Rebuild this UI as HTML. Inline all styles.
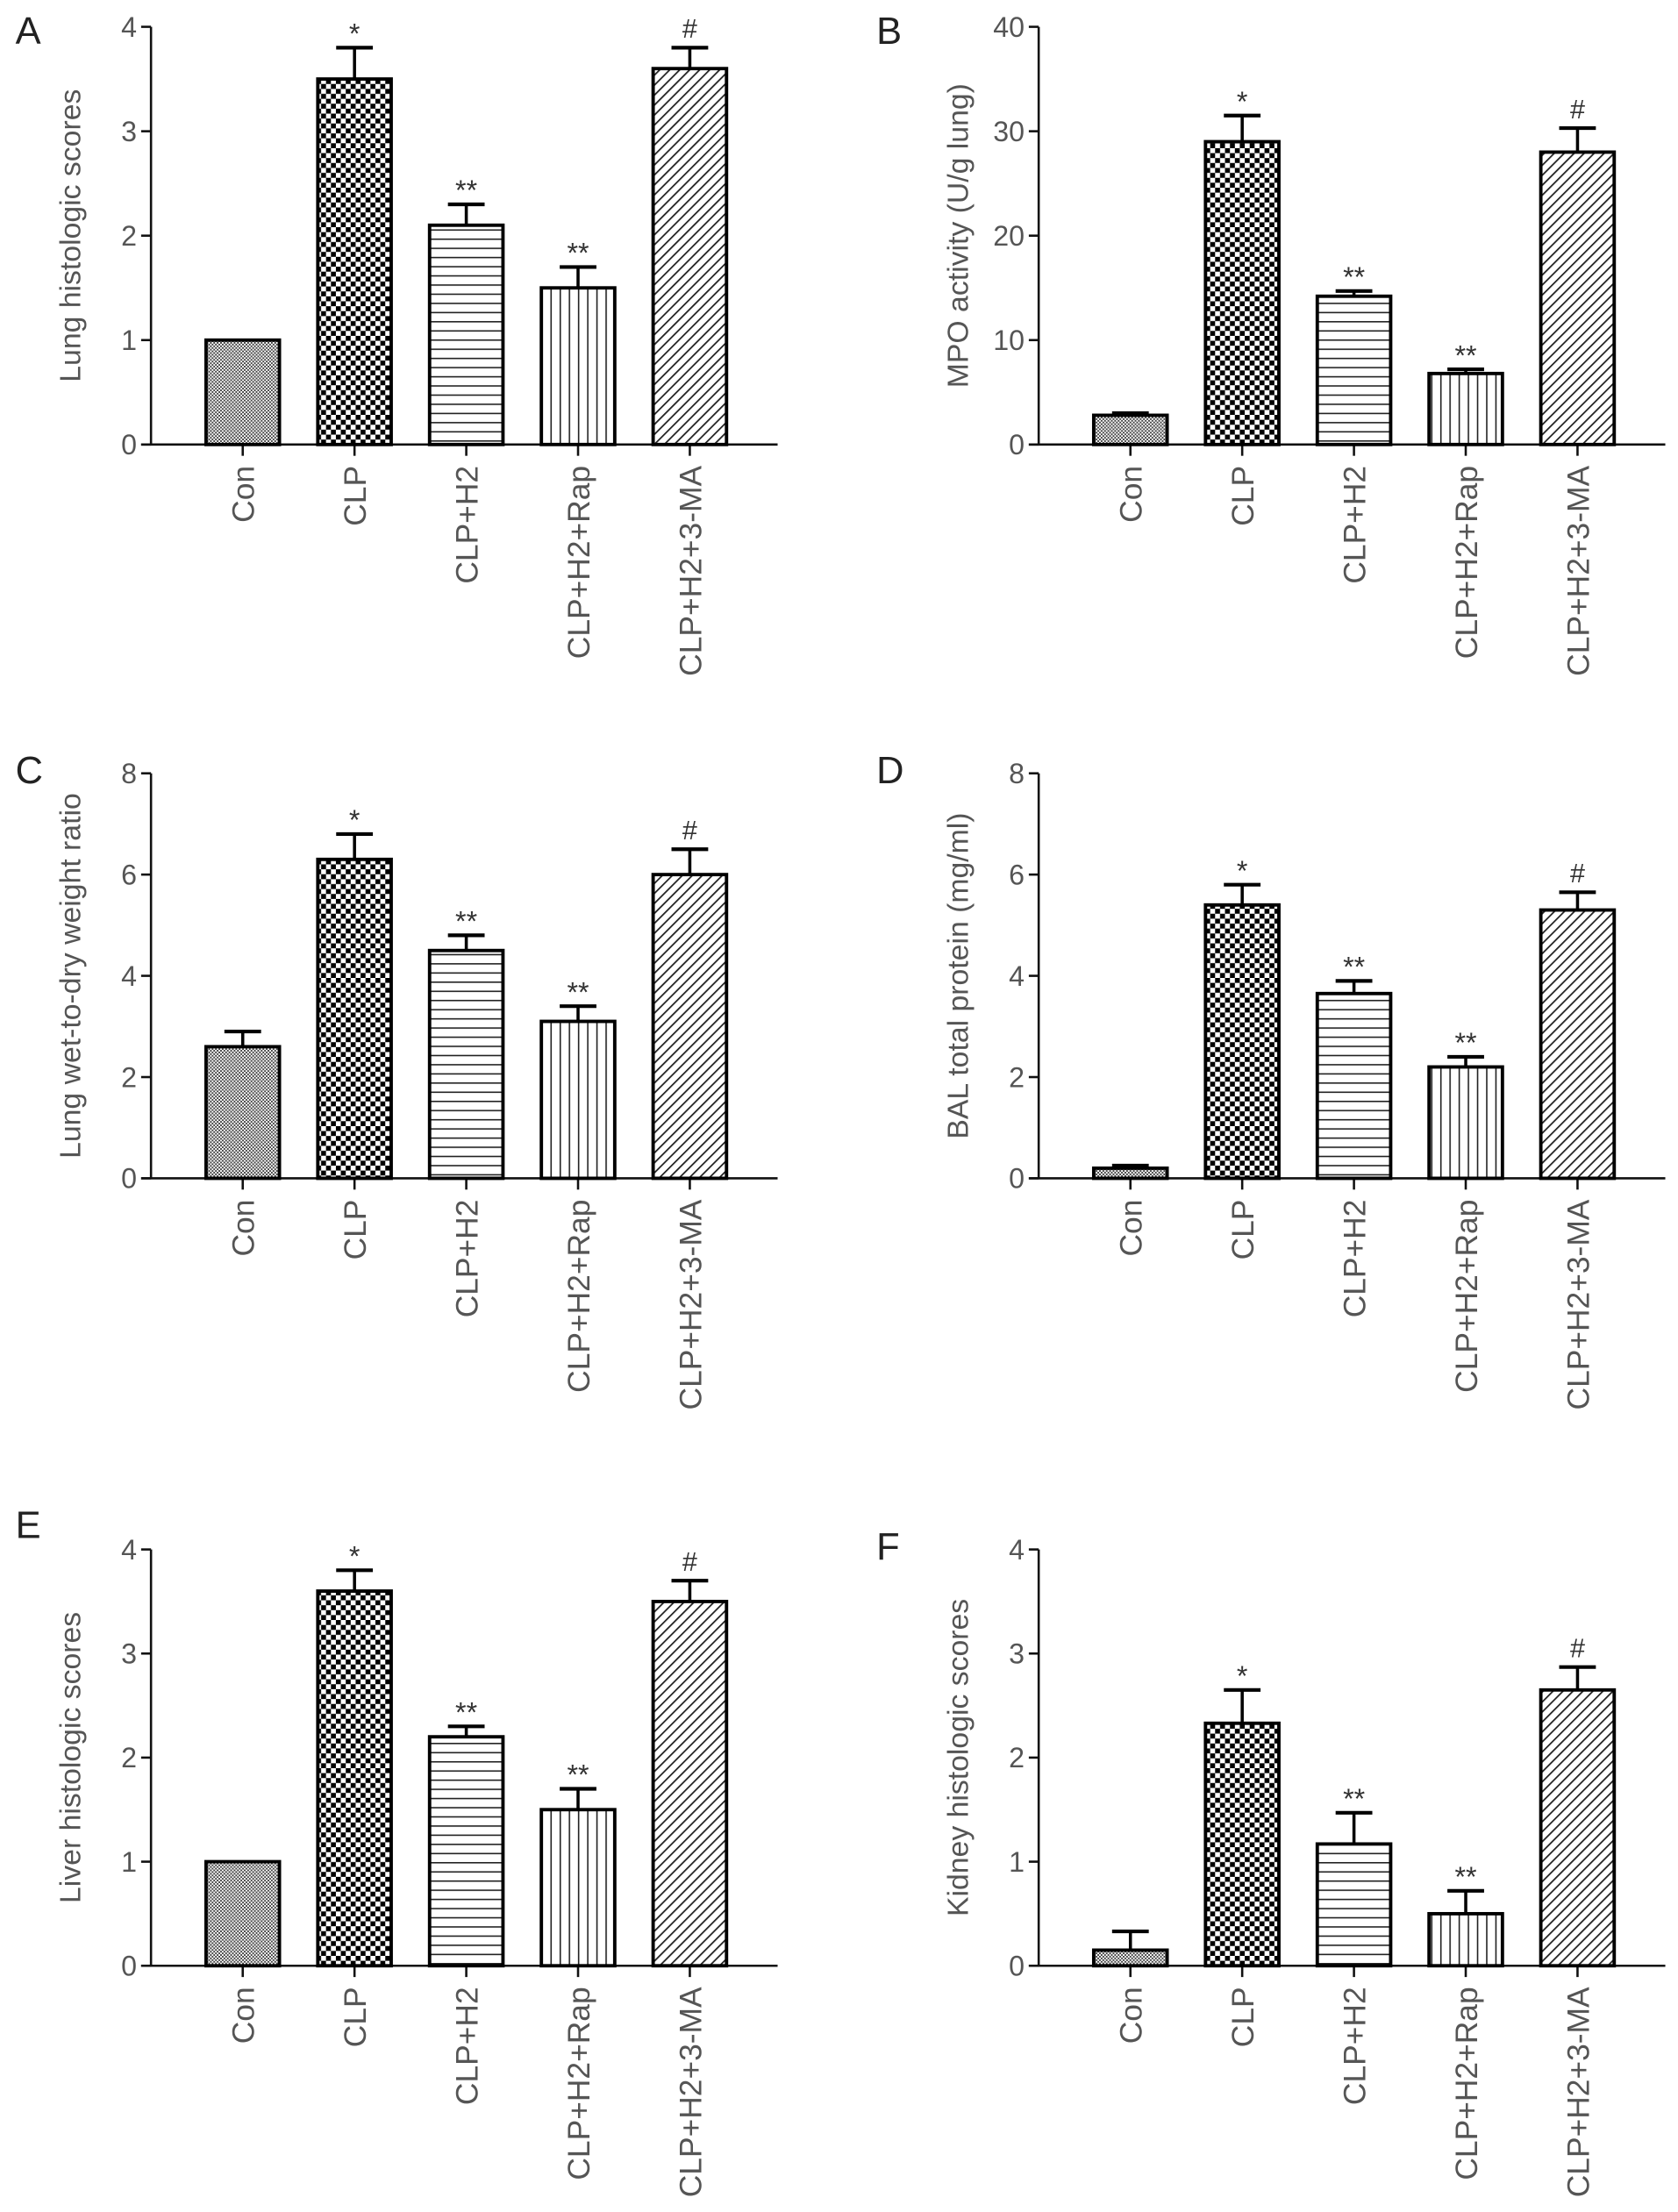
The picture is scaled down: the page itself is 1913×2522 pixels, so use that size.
<!DOCTYPE html>
<html><head><meta charset="utf-8"><style>
html,body{margin:0;padding:0;background:#fff;}
svg{display:block;}
text{font-family:"Liberation Sans",sans-serif;}
</style></head><body>
<svg id="fig" width="1913" height="2522" viewBox="0 0 1189 1567.5" preserveAspectRatio="none" xmlns="http://www.w3.org/2000/svg">
<defs>
<pattern id="pCon" width="2.4" height="2.4" patternUnits="userSpaceOnUse"><rect width="2.4" height="2.4" fill="#fff"/><rect width="1.2" height="1.2" fill="#444"/><rect x="1.2" y="1.2" width="1.2" height="1.2" fill="#444"/></pattern>
<pattern id="pCLP" width="7" height="7" patternUnits="userSpaceOnUse"><rect width="7" height="7" fill="#fff"/><rect width="3.5" height="3.5" fill="#000"/><rect x="3.5" y="3.5" width="3.5" height="3.5" fill="#000"/></pattern>
<pattern id="pH2" width="6" height="6.5" patternUnits="userSpaceOnUse"><rect width="6" height="6.5" fill="#fff"/><rect y="0" width="6" height="1" fill="#222"/></pattern>
<pattern id="pRap" width="6.5" height="6" patternUnits="userSpaceOnUse"><rect width="6.5" height="6" fill="#fff"/><rect x="0" width="1" height="6" fill="#222"/></pattern>
<pattern id="pMA" width="5" height="5" patternUnits="userSpaceOnUse" patternTransform="rotate(45)"><rect width="5" height="5" fill="#fff"/><rect width="1.1" height="5" fill="#222"/></pattern>
</defs>
</svg>
<script>
const categories = ["Con","CLP","CLP+H2","CLP+H2+Rap","CLP+H2+3-MA"];
const signs = ["","*","**","**","#"];
const aValues = [1.0, 3.5, 2.1, 1.5, 3.6];
const aErrors = [0, 0.3, 0.2, 0.2, 0.2];
const aTicks = [0,1,2,3,4];
const bValues = [2.8, 29.0, 14.2, 6.8, 28.0];
const bErrors = [0.2, 2.5, 0.5, 0.4, 2.3];
const bTicks = [0,10,20,30,40];
const cValues = [2.6, 6.3, 4.5, 3.1, 6.0];
const cErrors = [0.3, 0.5, 0.3, 0.3, 0.5];
const cTicks = [0,2,4,6,8];
const dValues = [0.2, 5.4, 3.65, 2.2, 5.3];
const dErrors = [0.05, 0.4, 0.25, 0.2, 0.35];
const dTicks = [0,2,4,6,8];
const eValues = [1.0, 3.6, 2.2, 1.5, 3.5];
const eErrors = [0, 0.2, 0.1, 0.2, 0.2];
const eTicks = [0,1,2,3,4];
const fValues = [0.15, 2.33, 1.17, 0.5, 2.65];
const fErrors = [0.18, 0.32, 0.3, 0.22, 0.22];
const fTicks = [0,1,2,3,4];

const NS="http://www.w3.org/2000/svg";
const svg=document.getElementById('fig');
const fills=["url(#pCon)","url(#pCLP)","url(#pH2)","url(#pRap)","url(#pMA)"];
function mk(tag,attrs,parent){const e=document.createElementNS(NS,tag);for(const k in attrs)e.setAttribute(k,attrs[k]);(parent||svg).appendChild(e);return e;}

function panel(letter,lx,ly,ax,top,base,ymax,ticks,vals,errs,title,key){
  const g=mk('g',{});
  
  
  const yS=v=>base-(v/ymax)*(base-top);
  const xC=i=>ax+65+i*79.2;
  const L=mk('text',{x:lx,y:ly,'font-size':27,fill:'#222'},g);L.textContent=letter;
  
  
  const yaxis=mk('line',{x1:ax,y1:top,x2:ax,y2:base,stroke:'#111','stroke-width':1.6},g);
  
  
  const xaxis=mk('line',{x1:ax-7,y1:base,x2:ax+444,y2:base,stroke:'#111','stroke-width':1.6},g);
  
  
  ticks.forEach(t=>{
    const y=yS(t);
    mk('line',{x1:ax-7,y1:y,x2:ax,y2:y,stroke:'#111','stroke-width':1.6},g);
    const tl=mk('text',{x:ax-10,y:y+7,'font-size':20,fill:'#555','text-anchor':'end'},g);tl.textContent=t;
    
    
  });
  const yt=mk('text',{x:0,y:0,'font-size':21,fill:'#555','text-anchor':'middle',transform:`translate(${ax-50},${(top+base)/2}) rotate(-90)`},g);
  yt.textContent=title;
  
  
  vals.forEach((v,i)=>{
    const cx=xC(i),w=52,y=yS(v);
    mk('line',{x1:cx,y1:base,x2:cx,y2:base+8,stroke:'#111','stroke-width':1.6},g);
    const cl=mk('text',{x:0,y:0,'font-size':22,fill:'#555','text-anchor':'end',transform:`translate(${cx+8},${base+15}) rotate(-90)`},g);
    cl.textContent=categories[i];
    
    
    if(errs[i]>0){
      const ye=yS(v+errs[i]);
      mk('line',{x1:cx,y1:y,x2:cx,y2:ye,stroke:'#000','stroke-width':2.2},g);
      mk('line',{x1:cx-13,y1:ye,x2:cx+13,y2:ye,stroke:'#000','stroke-width':2.6},g);
    }
    const b=mk('rect',{x:cx-w/2,y:y,width:w,height:base-y,fill:fills[i],stroke:'#000','stroke-width':2.4},g);
    
    
    if(signs[i]){
      const ye=yS(v+errs[i]);
      const s=mk('text',{x:cx,y:ye-(signs[i]==='#'?7:3),'font-size':signs[i]==='#'?19:20,fill:'#333','text-anchor':'middle'},g);
      s.textContent=signs[i];
      
      
    }
  });
}
panel('A',11,31,107,19,315,4,aTicks,aValues,aErrors,'Lung histologic scores','a');
panel('B',621,31,736,19,315,40,bTicks,bValues,bErrors,'MPO activity (U/g lung)','b');
panel('C',11,555,107,548,835,8,cTicks,cValues,cErrors,'Lung wet-to-dry weight ratio','c');
panel('D',621,555,736,548,835,8,dTicks,dValues,dErrors,'BAL total protein (mg/ml)','d');
panel('E',11,1090,107,1098,1393,4,eTicks,eValues,eErrors,'Liver histologic scores','e');
panel('F',621,1105,736,1098,1393,4,fTicks,fValues,fErrors,'Kidney histologic scores','f');
</script>
</body></html>
